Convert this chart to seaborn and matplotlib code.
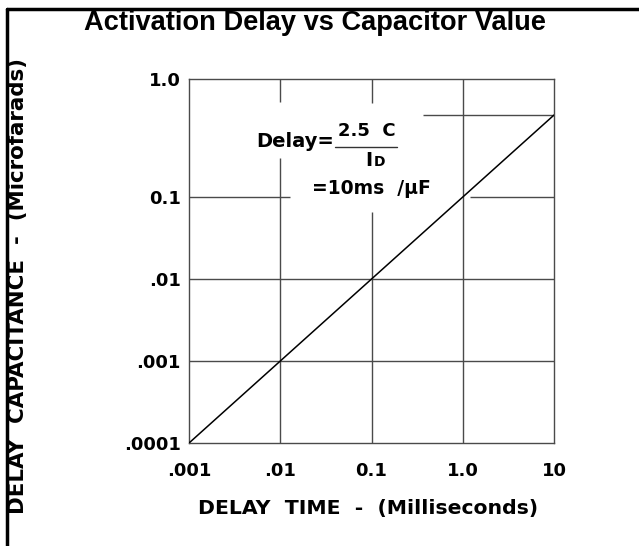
import matplotlib
matplotlib.use("Agg")
import matplotlib.pyplot as plt
from matplotlib.lines import Line2D
import pandas as pd
import seaborn as sns

# data
delay_ms = [0.001, 10.0]
cap_uf = [0.0001, 1.0]

x_ticks = [0.001, 0.01, 0.1, 1.0, 10.0]
x_labels = [".001", ".01", "0.1", "1.0", "10"]
y_top = 2.75  # the top edge of the original chart is labelled 1.0
y_ticks = [0.0001, 0.001, 0.01, 0.1, y_top]
y_labels = [".0001", ".001", ".01", "0.1", "1.0"]

# grid segments (the original has gaps behind the formula)
vgrid_x = [0.01, 0.01, 0.1, 0.1, 1.0]
vgrid_lo = [1.44, 0.0001, 1.40, 0.0001, 0.0001]
vgrid_hi = [y_top, 0.30, y_top, 0.066, y_top]
hgrid_y = [0.001, 0.01, 0.1, 0.1, 1.0]
hgrid_lo = [0.001, 0.001, 0.001, 1.2, 0.366]
hgrid_hi = [10.0, 10.0, 0.0128, 10.0, 10.0]

sns.set_style("white")
plt.rcParams["font.family"] = ["DejaVu Sans"]
plt.rcParams["font.weight"] = "bold"
for key in ["text.color", "axes.labelcolor", "xtick.color", "ytick.color"]:
    plt.rcParams[key] = "black"

fig = plt.figure(figsize=(6.39, 5.46), dpi=100)
ax = fig.add_axes([0.2958, 0.1886, 0.5712, 0.6667])

grid_col = "#4a4a4a"
ax.vlines(vgrid_x, vgrid_lo, vgrid_hi, color=grid_col, lw=1.0, zorder=1)
ax.hlines(hgrid_y, hgrid_lo, hgrid_hi, color=grid_col, lw=1.0, zorder=1)

df = pd.DataFrame({"delay": delay_ms, "cap": cap_uf})
sns.lineplot(data=df, x="delay", y="cap", color="black", lw=1.1, ax=ax, zorder=3)

ax.set_xscale("log")
ax.set_yscale("log")
ax.set_xlim(x_ticks[0], x_ticks[-1])
ax.set_ylim(y_ticks[0], y_top)
ax.set_xticks(x_ticks)
ax.set_xticklabels(x_labels)
ax.set_yticks(y_ticks)
ax.set_yticklabels(y_labels)
ax.minorticks_off()
ax.tick_params(axis="both", length=0, labelsize=13)
ax.tick_params(axis="x", pad=14)
ax.tick_params(axis="y", pad=6)
for s in ax.spines.values():
    s.set_color(grid_col)
    s.set_linewidth(1.0)

ax.set_xlabel("DELAY  TIME  -  (Milliseconds)", fontsize=14.7, fontweight="bold")
ax.set_ylabel("DELAY  CAPACITANCE  -  (Microfarads)", fontsize=15.4,
              fontweight="bold")
ax.xaxis.set_label_coords(0.49, -0.154)
ax.yaxis.set_label_coords(-0.44, 0.431)

# formula
tr = ax.transAxes
ax.text(0.397, 0.828, "Delay=", transform=tr, ha="right", va="center",
        fontsize=14, fontweight="bold")
ax.text(0.486, 0.856, "2.5  C", transform=tr, ha="center", va="center",
        fontsize=13, fontweight="bold")
ax.plot([0.40, 0.57], [0.812, 0.812], transform=tr, color="#333333", lw=1)
ax.text(0.483, 0.762, "I", transform=tr, ha="left", va="baseline",
        fontsize=14, fontweight="bold")
ax.text(0.507, 0.762, "D", transform=tr, ha="left", va="baseline",
        fontsize=10, fontweight="bold")
ax.text(0.499, 0.700, "=10ms  /\u00b5F", transform=tr, ha="center",
        va="center", fontsize=13.5, fontweight="bold")

fig.text(0.493, 0.958, "Activation Delay vs Capacitor Value",
         ha="center", va="center", fontsize=19.6, fontweight="bold",
         family=["Liberation Sans Narrow", "Liberation Sans"])

# frame on the left and top of the figure
fig.add_artist(Line2D([0.0102, 0.0102], [0.0, 0.984], color="black", lw=2.5,
                      transform=fig.transFigure))
fig.add_artist(Line2D([0.0102, 1.0], [0.984, 0.984], color="black", lw=2.5,
                      transform=fig.transFigure))

fig.savefig("out.png", dpi=100)
